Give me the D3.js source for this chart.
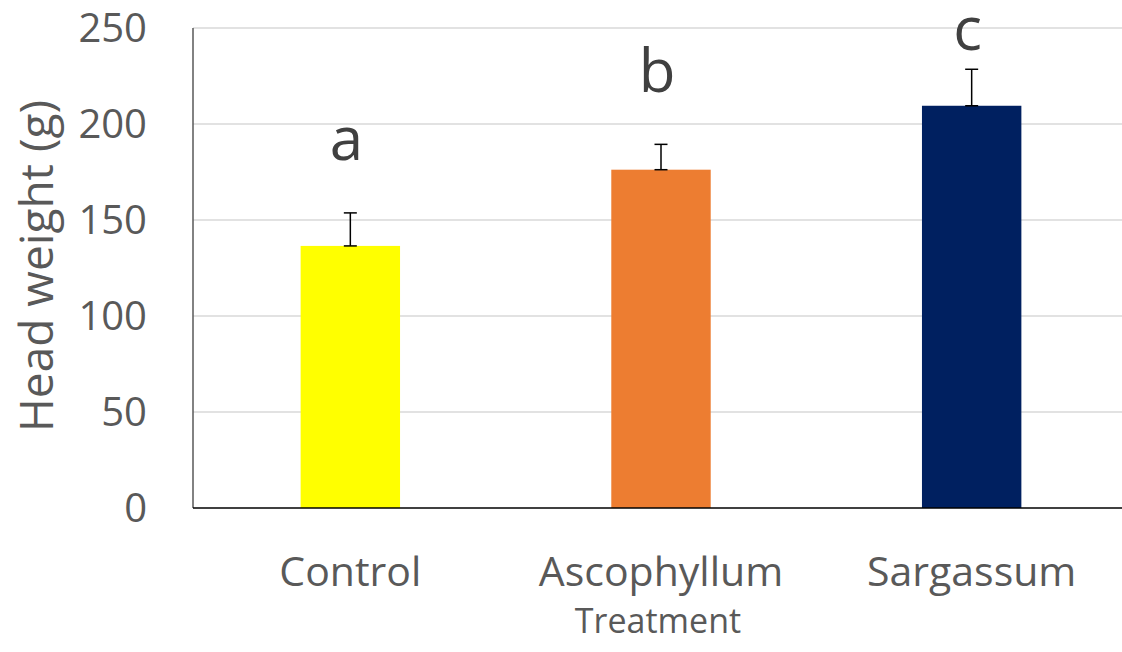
<!DOCTYPE html>
<html>
<head>
<meta charset="utf-8">
<script src="https://cdn.jsdelivr.net/npm/d3@7"></script>
<style>
  body { margin: 0; background: #fff; }
  text { font-family: "Open Sans", "Noto Sans", sans-serif; }
</style>
</head>
<body>
<svg id="chart" width="1122" height="652"></svg>
<script>
// data
var categories = ['Control', 'Ascophyllum', 'Sargassum'];
var means = [136.5, 176.2, 209.5];
var errors = [17.2, 13.2, 19.0];
var letters = ['a', 'b', 'c'];
var letterLevels = [181, 216.5, 238.5];
var colors = ['#ffff00', '#ed7d31', '#002060'];
var yTicks = [0, 50, 100, 150, 200, 250];

function draw() {
    var svg = d3.select('#chart');
    var pLeft = 193, pRight = 1122, pTop = 28, pBottom = 508;

    var x = d3.scaleBand().domain(categories).range([195, 1127])
        .paddingInner(0.68).paddingOuter(0.34);
    var y = d3.scaleLinear().domain([0, 250]).range([pBottom, pTop]);

    // gridlines
    svg.append('g').selectAll('line').data(yTicks.filter(function (d) { return d > 0; })).enter()
        .append('line')
        .attr('x1', pLeft).attr('x2', pRight)
        .attr('y1', function (d) { return y(d); }).attr('y2', function (d) { return y(d); })
        .attr('stroke', '#d9d9d9').attr('stroke-width', 1.5);

    // y tick labels
    svg.append('g').selectAll('text').data(yTicks).enter()
        .append('text')
        .attr('x', 147).attr('y', function (d) { return y(d); })
        .attr('dy', '0.36em')
        .attr('text-anchor', 'end')
        .attr('font-size', 40).attr('fill', '#595959')
        .text(function (d) { return d; });

    // bars
    svg.append('g').selectAll('rect').data(categories).enter()
        .append('rect')
        .attr('x', function (d) { return x(d); })
        .attr('width', x.bandwidth())
        .attr('y', function (d, i) { return y(means[i]); })
        .attr('height', function (d, i) { return pBottom - y(means[i]); })
        .attr('fill', function (d, i) { return colors[i]; });

    // error bars (upward only)
    var eb = svg.append('g').attr('stroke', '#000').attr('stroke-width', 1.5);
    categories.forEach(function (c, i) {
        var cx = x(c) + x.bandwidth() / 2;
        var y0 = y(means[i]), y1 = y(means[i] + errors[i]);
        eb.append('line').attr('x1', cx).attr('x2', cx).attr('y1', y0).attr('y2', y1);
        eb.append('line').attr('x1', cx - 6.5).attr('x2', cx + 6.5).attr('y1', y1).attr('y2', y1);
        eb.append('line').attr('x1', cx - 6.5).attr('x2', cx + 6.5).attr('y1', y0).attr('y2', y0);
    });

    // significance letters
    svg.append('g').selectAll('text').data(letters).enter()
        .append('text')
        .attr('x', function (d, i) { return x(categories[i]) + x.bandwidth() / 2 - 4; })
        .attr('y', function (d, i) { return y(letterLevels[i]); })
        .attr('text-anchor', 'middle')
        .attr('font-size', 60).attr('fill', '#404040')
        .text(function (d) { return d; });

    // axis lines
    svg.append('line').attr('x1', pLeft).attr('x2', pLeft).attr('y1', pTop).attr('y2', pBottom)
        .attr('stroke', '#595959').attr('stroke-width', 1.5);
    svg.append('line').attr('x1', pLeft).attr('x2', pRight).attr('y1', pBottom).attr('y2', pBottom)
        .attr('stroke', '#000').attr('stroke-width', 1.5);

    // x category labels
    svg.append('g').selectAll('text').data(categories).enter()
        .append('text')
        .attr('x', function (d) { return x(d) + x.bandwidth() / 2; })
        .attr('y', 586)
        .attr('text-anchor', 'middle')
        .attr('font-size', 41).attr('fill', '#595959')
        .text(function (d) { return d; });

    // axis titles
    svg.append('text')
        .attr('x', 658).attr('y', 633)
        .attr('text-anchor', 'middle')
        .attr('font-size', 34).attr('fill', '#595959')
        .text('Treatment');

    svg.append('text')
        .attr('transform', 'translate(53,266) rotate(-90)')
        .attr('text-anchor', 'middle')
        .attr('font-size', 46).attr('fill', '#595959')
        .text('Head weight (g)');
}
draw();
</script>
</body>
</html>
